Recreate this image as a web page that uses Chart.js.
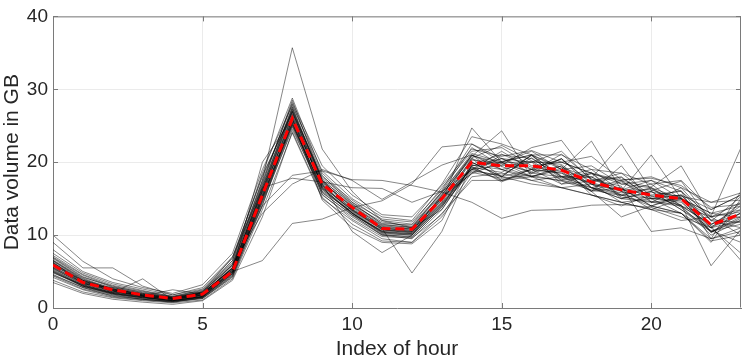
<!DOCTYPE html>
<html>
<head>
<meta charset="utf-8">
<script src="https://cdn.jsdelivr.net/npm/chart.js@4.4.1/dist/chart.umd.min.js"></script>
<style>
  html, body { margin: 0; padding: 0; background: #fff; }
</style>
</head>
<body>
<canvas id="hourlyChart" width="747" height="362"></canvas>
<script>
// hourly data volume (GB), one row per day, plus the average curve in red

const hours = [0,1,2,3,4,5,6,7,8,9,10,11,12,13,14,15,16,17,18,19,20,21,22,23];
const hourTicks = [0, 5, 10, 15, 20];
const volumeTicks = [0, 10, 20, 30, 40];

const averageVolume = [5.9,3.5,2.5,1.8,1.3,1.9,5.0,15.5,26.0,17.0,13.8,10.9,10.8,15.0,20.0,19.5,19.5,18.9,17.3,16.2,15.5,15.0,11.4,12.9];

const dailyVolumes = [
  [6.2,3.8,2.5,1.6,1.2,2.0,6.5,17.5,35.7,21.8,16.0,12.0,11.0,13.5,19.5,20.5,19.0,18.5,17.0,16.0,15.0,14.5,11.0,12.0],
  [4.5,2.8,1.6,1.2,0.9,1.5,5.0,6.5,11.6,12.2,13.8,14.7,17.0,22.1,22.5,20.0,18.5,18.0,16.5,15.5,14.0,13.0,10.5,11.5],
  [5.0,3.0,2.0,1.4,1.1,1.8,5.5,14.0,18.2,18.8,17.6,17.5,16.8,15.9,14.5,12.3,13.4,13.5,14.1,14.2,13.8,12.5,11.0,7.5],
  [5.5,3.2,2.1,1.5,1.0,1.6,6.0,13.0,17.0,19.0,17.5,14.9,17.3,19.6,21.0,19.0,18.0,17.5,16.5,15.0,14.5,14.0,11.5,13.0],
  [6.5,4.0,2.4,1.7,1.3,2.2,7.0,16.5,17.8,17.3,16.5,16.4,14.5,16.0,19.0,18.0,17.0,16.5,15.5,14.5,13.5,12.0,12.5,10.0],
  [5.2,3.1,2.0,1.5,1.0,1.6,5.2,16.0,27.0,16.5,13.0,10.2,10.0,14.0,19.0,21.5,19.0,20.5,16.5,17.5,14.5,15.0,10.5,12.0],
  [6.8,4.2,3.0,2.1,1.5,2.2,5.8,17.0,28.5,17.5,13.5,11.0,10.5,15.5,21.0,18.0,21.0,18.0,19.0,16.0,17.0,14.0,12.5,14.5],
  [4.6,2.8,1.8,1.2,0.8,1.4,4.5,15.0,25.5,15.5,12.5,10.0,9.5,13.5,19.5,20.0,18.0,19.5,15.5,14.0,15.5,16.0,9.5,11.0],
  [7.5,4.8,3.3,2.4,1.6,2.5,6.5,18.5,28.8,18.5,14.5,11.5,11.0,16.0,22.0,19.5,20.0,21.5,17.5,18.0,15.0,15.5,13.5,15.5],
  [5.5,3.4,2.3,1.6,1.2,1.8,4.8,14.5,24.5,16.0,13.2,10.5,10.2,14.5,20.5,17.5,19.0,17.0,18.5,15.0,16.0,13.5,11.0,13.0],
  [6.0,3.6,2.6,1.9,1.3,2.0,5.5,16.5,27.5,17.2,14.0,11.2,10.8,15.0,18.5,21.0,20.5,18.0,16.0,19.5,14.5,16.5,12.0,11.0],
  [3.8,2.2,1.4,1.0,0.7,1.1,4.0,13.5,24.0,15.0,12.0,9.5,9.0,12.5,18.0,18.5,17.5,16.5,17.0,14.5,15.0,13.0,9.5,10.5],
  [8.0,5.0,3.5,2.6,1.8,2.8,7.0,18.0,27.0,18.0,14.8,12.0,11.5,16.5,21.5,22.0,19.5,20.0,18.5,17.0,16.5,15.0,13.0,14.0],
  [5.8,3.8,2.2,1.7,1.2,1.7,5.0,15.5,26.5,16.8,13.5,10.8,10.5,14.8,20.0,18.0,21.0,19.0,16.0,16.5,14.0,15.5,11.5,13.5],
  [6.3,3.3,2.8,2.0,1.4,2.1,5.3,16.0,25.8,17.0,13.0,10.5,11.0,15.2,19.0,20.5,18.5,20.5,17.0,15.5,16.5,14.0,10.0,12.0],
  [4.2,2.5,1.5,1.1,0.8,1.3,4.2,14.0,26.0,15.8,12.8,10.0,9.8,13.8,20.5,19.0,20.0,17.5,18.0,16.0,13.5,15.0,11.0,14.5],
  [7.0,4.5,2.9,2.2,1.5,2.3,6.0,17.5,28.0,18.2,14.2,11.8,11.2,15.8,21.2,20.0,21.5,19.0,19.5,17.0,17.5,16.0,12.5,13.5],
  [5.0,3.0,1.9,1.4,1.0,1.5,4.6,14.8,25.0,16.2,13.0,10.3,10.0,14.2,19.2,17.5,18.5,19.5,16.5,15.0,16.0,13.5,10.5,12.5],
  [10.0,6.4,4.0,2.8,2.0,3.2,7.5,19.0,27.8,18.8,15.0,12.5,12.0,17.0,23.5,22.5,21.0,21.0,19.0,18.5,17.0,17.5,13.5,15.5],
  [9.0,5.5,5.5,3.0,1.8,2.6,6.8,18.2,26.8,17.8,14.5,12.2,11.8,16.2,22.5,20.5,20.0,20.0,18.5,17.5,18.0,16.5,14.5,14.8],
  [4.8,3.2,2.1,4.0,1.1,1.5,4.8,15.2,25.2,16.5,12.8,10.6,10.4,14.4,19.6,19.0,17.5,18.0,18.0,15.5,15.0,15.5,11.2,12.6],
  [3.5,2.0,1.2,0.8,0.5,1.0,3.8,12.5,24.2,15.2,11.5,9.2,9.0,13.0,17.5,17.5,18.0,16.5,15.5,14.5,13.5,13.0,9.2,10.0],
  [6.5,3.9,2.7,1.8,1.4,2.0,5.6,16.2,27.2,17.4,13.8,11.0,10.6,15.4,20.8,24.3,18.0,19.2,17.0,16.2,17.5,15.0,12.5,13.2],
  [5.6,3.5,2.4,1.7,1.2,1.9,5.2,15.8,26.2,16.6,13.4,10.8,10.4,14.6,24.7,20.0,21.0,17.0,17.4,18.5,15.4,14.0,11.4,14.0],
  [6.1,3.7,2.5,1.8,1.3,1.8,5.1,15.4,25.6,17.1,13.6,11.1,10.7,15.1,19.0,19.6,22.0,23.0,17.6,16.4,14.0,15.2,10.3,13.1],
  [5.4,3.3,2.2,1.6,1.1,1.7,4.9,15.1,25.9,16.9,13.3,10.7,10.3,14.9,21.0,19.4,18.0,19.0,22.9,16.2,16.2,14.9,12.1,11.7],
  [6.6,4.1,2.6,1.9,1.4,2.1,5.4,16.1,26.6,17.3,13.9,11.3,10.9,15.3,18.4,20.1,21.0,19.3,17.8,22.5,16.1,17.4,11.9,15.3],
  [5.3,3.1,2.1,1.5,1.0,1.6,4.7,15.3,25.3,16.4,13.1,10.4,10.2,14.3,19.4,17.3,19.1,20.4,17.2,16.1,21.0,15.0,13.0,12.4],
  [6.9,4.3,2.8,2.0,1.5,2.2,5.9,16.8,27.6,17.6,14.1,11.4,11.1,15.6,20.6,22.3,20.2,17.6,18.4,17.4,16.6,19.5,12.6,22.0],
  [4.9,2.9,1.9,1.3,0.9,1.4,4.4,14.6,25.1,15.9,12.7,10.1,9.7,13.9,18.8,18.2,20.6,17.8,18.6,15.2,14.6,14.2,5.8,10.8],
  [5.7,3.4,2.3,1.6,1.2,1.8,5.0,15.6,26.3,16.7,13.4,10.9,4.8,10.5,19.7,21.1,19.3,18.7,16.1,17.3,15.3,16.1,11.2,6.5],
  [6.4,3.8,2.6,1.8,1.3,2.0,5.5,16.3,26.9,17.0,10.5,7.6,10.0,15.2,20.3,19.8,18.7,21.1,17.7,16.7,10.5,11.0,9.5,16.0],
  [5.9,3.5,2.4,1.7,2.5,1.9,5.2,20.0,26.0,14.8,11.0,9.0,8.8,12.0,20.0,18.0,19.0,18.5,16.0,12.5,14.0,13.0,9.0,15.0],
  [7.2,4.6,3.1,2.3,1.6,2.4,6.2,17.2,28.2,19.5,15.5,12.8,12.5,16.8,21.8,20.8,21.6,20.0,20.8,17.6,17.8,16.8,13.8,14.2],
  [4.4,2.6,1.7,1.2,0.9,1.3,4.3,14.2,24.8,15.6,12.2,9.8,9.6,12.8,18.6,17.8,18.2,17.4,16.2,15.4,16.4,13.8,10.6,9.0],
  [6.2,3.6,2.5,1.9,1.4,2.0,5.4,16.6,27.3,17.5,14.3,11.6,11.4,15.9,20.9,19.9,20.1,19.7,16.5,15.8,15.9,15.3,14.5,15.8],
  [5.1,3.0,2.0,1.4,1.0,1.5,4.7,14.9,25.4,16.3,13.0,10.4,10.1,14.1,19.3,18.6,20.9,18.1,17.3,17.9,15.1,14.7,10.4,12.3]
];

const axisColor = '#7a7a7a';
const gridColor = '#ebebeb';
const textColor = '#262626';

Chart.defaults.font.family = "'Liberation Sans', Arial, Helvetica, sans-serif";
Chart.defaults.color = textColor;

// box around the axes plus small inward ticks, like a matlab figure
const boxPlugin = {
  id: 'axesBox',
  afterDatasetsDraw(chart) {
    const { ctx, chartArea: a, scales } = chart;
    ctx.save();
    ctx.strokeStyle = axisColor;
    ctx.lineWidth = 1;
    ctx.beginPath();
    ctx.moveTo(a.left + 0.5, a.top + 0.5);
    ctx.lineTo(a.right - 0.5, a.top + 0.5);
    ctx.lineTo(a.right - 0.5, a.bottom - 0.5);
    ctx.stroke();
    const tick = 5;
    ctx.beginPath();
    hourTicks.forEach(v => {
      const x = Math.round(scales.x.getPixelForValue(v)) + 0.5;
      ctx.moveTo(x, a.bottom); ctx.lineTo(x, a.bottom - tick);
      ctx.moveTo(x, a.top); ctx.lineTo(x, a.top + tick);
    });
    volumeTicks.forEach(v => {
      const y = Math.round(scales.y.getPixelForValue(v)) + 0.5;
      ctx.moveTo(a.left, y); ctx.lineTo(a.left + tick, y);
      ctx.moveTo(a.right, y); ctx.lineTo(a.right - tick, y);
    });
    ctx.stroke();
    ctx.restore();
  }
};

const datasets = [{
  label: 'average',
  data: averageVolume,
  borderColor: '#ff0000',
  borderWidth: 3,
  borderDash: [9, 5],
  pointRadius: 0,
  fill: false
}];
dailyVolumes.forEach((row, i) => {
  datasets.push({
    label: 'day ' + (i + 1),
    data: row,
    borderColor: 'rgba(0,0,0,0.6)',
    borderWidth: 0.8,
    pointRadius: 0,
    fill: false
  });
});

new Chart(document.getElementById('hourlyChart').getContext('2d'), {
  type: 'line',
  data: { labels: hours, datasets: datasets },
  options: {
    responsive: false,
    animation: false,
    layout: { padding: { top: 12, right: 6, left: 0, bottom: 0 } },
    plugins: { legend: { display: false }, tooltip: { enabled: false } },
    elements: { line: { tension: 0 } },
    scales: {
      x: {
        type: 'linear',
        min: 0,
        max: 23,
        afterBuildTicks: s => { s.ticks = hourTicks.map(v => ({ value: v })); },
        afterFit: s => { s.height = 54; },
        grid: { color: gridColor, drawTicks: false },
        border: { display: true, color: axisColor, width: 1 },
        ticks: { padding: 5, maxRotation: 0, font: { size: 19 }, color: textColor },
        title: { display: true, text: 'Index of hour', font: { size: 21 }, color: textColor, padding: { top: 0, bottom: 0 } }
      },
      y: {
        min: 0,
        max: 40,
        afterBuildTicks: s => { s.ticks = volumeTicks.map(v => ({ value: v })); },
        afterFit: s => { s.width = 53; },
        grid: { color: gridColor, drawTicks: false },
        border: { display: true, color: axisColor, width: 1 },
        ticks: { padding: 5, font: { size: 19 }, color: textColor },
        title: { display: true, text: 'Data volume in GB', font: { size: 21 }, color: textColor, padding: { top: 0, bottom: 0 } }
      }
    }
  },
  plugins: [boxPlugin]
});
</script>
</body>
</html>
